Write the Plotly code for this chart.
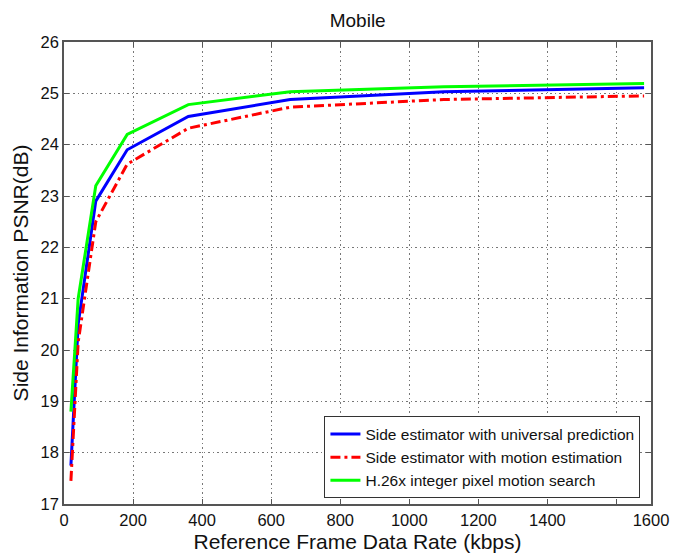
import plotly.graph_objects as go

# Data
rate_kbps = [20, 41, 92, 183, 360, 655, 1100, 1680]
psnr_universal = [17.75, 20.5, 22.9, 23.9, 24.55, 24.88, 25.03, 25.11]
psnr_motion_est = [17.45, 20.15, 22.5, 23.62, 24.32, 24.73, 24.88, 24.95]
psnr_h26x = [18.8, 21.0, 23.2, 24.2, 24.78, 25.03, 25.13, 25.19]

series_names = [
    "Side estimator with universal prediction",
    "Side estimator with motion estimation",
    "H.26x integer pixel motion search",
]

x_tick_vals = [0, 200, 400, 600, 800, 1000, 1200, 1400, 1600, 1700]
x_tick_text = ["0", "200", "400", "600", "800", "1000", "1200", "1400", "", "1600"]
y_tick_vals = [17, 18, 19, 20, 21, 22, 23, 24, 25, 26]

FONT = "Liberation Sans, Arial, sans-serif"

fig = go.Figure()
fig.add_trace(go.Scatter(x=rate_kbps, y=psnr_universal, mode="lines",
                         name=series_names[0],
                         line=dict(color="#0000ff", width=3)))
fig.add_trace(go.Scatter(x=rate_kbps, y=psnr_motion_est, mode="lines",
                         name=series_names[1],
                         line=dict(color="#ff0000", width=3, dash="10px,4px,3px,4px")))
fig.add_trace(go.Scatter(x=rate_kbps, y=psnr_h26x, mode="lines",
                         name=series_names[2],
                         line=dict(color="#00ff00", width=3)))

axis_common = dict(
    showline=True, linecolor="#555555", linewidth=1.5, mirror="ticks",
    ticks="inside", ticklen=5, tickcolor="#555555", tickwidth=1,
    showgrid=True, gridcolor="#777777", gridwidth=1, griddash="1.5px,3px",
    zeroline=False, automargin=False,
    tickfont=dict(family=FONT, size=16.5, color="#111111"),
)

fig.update_layout(
    width=673, height=556,
    margin=dict(l=64, r=22, t=42, b=52),
    paper_bgcolor="white", plot_bgcolor="white",
    title=dict(text="Mobile", x=0.5315, xanchor="center", y=0.963, yanchor="middle",
               font=dict(family=FONT, size=19, color="#111111")),
    xaxis=dict(range=[0, 1700], tickvals=x_tick_vals, ticktext=x_tick_text,
               title=dict(text="Reference Frame Data Rate (kbps)", standoff=7,
                          font=dict(family=FONT, size=21, color="#111111")),
               **axis_common),
    yaxis=dict(range=[17, 26], tickvals=y_tick_vals,
               title=dict(text="Side Information PSNR(dB)", standoff=6,
                          font=dict(family=FONT, size=21, color="#111111")),
               **axis_common),
    legend=dict(x=0.982, xanchor="right", y=0.012, yanchor="bottom",
                bgcolor="white", bordercolor="#333333", borderwidth=1,
                font=dict(family=FONT, size=15.5, color="#111111"),
                tracegroupgap=0, itemwidth=30),
    showlegend=True,
)

fig.write_html("out.html", config={"displayModeBar": False})
